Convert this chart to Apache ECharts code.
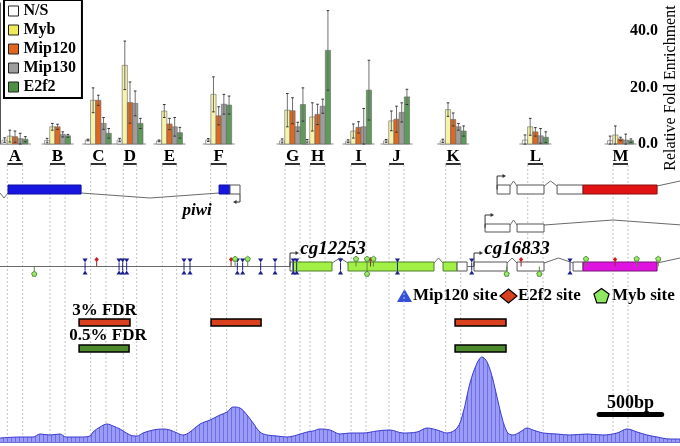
<!DOCTYPE html>
<html><head><meta charset="utf-8">
<script src="https://cdn.jsdelivr.net/npm/echarts@6/dist/echarts.min.js"></script>
<style>html,body{margin:0;padding:0;background:#fff}#c{width:680px;height:446px}</style>
</head><body><div id="c"></div>
<script>
// ---------------- DATA ----------------
const seriesNames = ['N/S', 'Myb', 'Mip120', 'Mip130', 'E2f2'];
const primerLabels = ['A','B','C','D','E','F','G','H','I','J','K','L','M'];
const primerStart = [55, 375, 680, 925, 1217, 1580, 2138, 2325, 2633, 2918, 3343, 3958, 4598];
const primerEnd   = [170, 488, 795, 1025, 1325, 1700, 2250, 2438, 2745, 3030, 3455, 4073, 4710];

const nsVals     = [1.4, 1.2, 1.4, 1.4, 1.1, 1.4, 1.1, 1.0, 1.0, 1.1, 1.1, 1.4, 1.2];
const nsErr      = [0.8, 0.8, 0.3, 0.6, 0.3, 0.5, 0.7, 0.6, 0.5, 0.5, 0.6, 1.8, 1.6];
const mybVals    = [2.8, 6.1, 15.5, 27.9, 11.7, 17.6, 12.0, 9.6, 4.6, 8.2, 12.2, 6.1, 3.2];
const mybErr     = [2.1, 1.2, 4.4, 8.6, 2.3, 6.2, 5.9, 5.0, 2.5, 3.5, 2.4, 3.0, 3.2];
const mip120Vals = [2.6, 6.1, 15.5, 14.7, 7.1, 10.0, 11.8, 10.5, 5.9, 8.8, 8.7, 4.3, 1.8];
const mip120Err  = [2.0, 0.9, 1.8, 7.3, 2.0, 3.2, 4.6, 3.6, 2.0, 4.6, 2.3, 1.5, 0.6];
const mip130Vals = [1.9, 3.4, 7.3, 14.4, 6.1, 14.1, 6.1, 13.4, 6.1, 11.2, 6.1, 2.9, 1.4];
const mip130Err  = [1.9, 0.9, 2.1, 4.4, 3.3, 3.5, 1.6, 2.5, 6.5, 3.4, 1.2, 2.6, 2.1];
const e2f2Vals   = [1.7, 2.9, 3.8, 7.3, 4.0, 13.8, 14.0, 33.2, 19.1, 16.7, 4.6, 2.4, 1.2];
const e2f2Err    = [0.9, 0.5, 1.7, 1.8, 1.9, 3.2, 5.9, 14.1, 10.6, 2.7, 1.8, 1.9, 0.6];
const yTicks = [0, 20, 40];

// gene models (bp): [start, end, coding]
const piwiExons   = [[60, 608, 1], [1643, 1725, 1], [1725, 1800, 0]];
const piwiIntrons = [[0, 60], [608, 1643]];
const piwiTss = 1800;
const iso1Exons   = [[3728, 3825, 0], [3878, 4080, 0], [4178, 4373, 0], [4373, 4928, 1]];
const iso1Introns = [[3825, 3878], [4080, 4178], [4928, 5273]];
const iso1Tss = 3728;
const iso2Exons   = [[3638, 3825, 0], [3878, 4080, 0]];
const iso2Introns = [[3825, 3878], [4080, 5115]];
const iso2Tss = 3638;
const cg12253Exons   = [[2175, 2198, 0], [2198, 2490, 1], [2610, 3255, 1], [3323, 3428, 1], [3428, 3503, 0]];
const cg12253Introns = [[2490, 2610], [3255, 3323]];
const cg12253Tss = 2175;
const cg16833Exons   = [[3555, 3803, 0], [3878, 4080, 0], [4298, 4373, 0], [4373, 4928, 1]];
const cg16833Introns = [[3803, 3878], [4080, 4298], [4928, 5273]];
const cg16833Tss = 3555;
const intergenic = [[0, 2175], [3503, 3555]];
const geneNames = ['piwi', 'cg12253', 'cg16833'];
const geneNamePos = [1478, 2498, 3878];

// binding sites (bp)
const mip120Sites = [638, 893, 920, 950, 1380, 1425, 1780, 1820, 1955, 2063, 2200, 2225, 2554, 2981, 3538, 4275];
const e2f2Sites = [725, 1733, 2779, 3908, 4613];
const mybSites = [257, 1763, 1858, 2670, 2753, 2753, 2801, 3800, 4045, 4395, 4775, 4937];
const mybStrand = [-1, 1, 1, 1, 1, -1, 1, -1, -1, 1, 1, 1];

// FDR regions (bp)
const fdr3Start = [593, 1583, 3413];
const fdr3End   = [975, 1958, 3795];
const fdr05Start = [593, 3413];
const fdr05End   = [968, 3795];
const scaleBar = [4478, 4978];

// coverage profile
const covPos = [0,150,248,300,375,450,495,600,675,698,750,803,848,900,975,1028,1073,1148,1223,1275,1328,1373,1425,1500,1575,1650,1703,1748,1800,1853,1898,1950,2003,2078,2153,2228,2303,2348,2400,2475,2550,2625,2723,2828,2925,3023,3128,3203,3278,3353,3428,3473,3525,3578,3615,3653,3698,3750,3803,3848,3900,3953,3998,4073,4178,4275,4403,4523,4628,4703,4778,4853,4928,5025,5100];
const covVal = [4,5,5,8,7,8,5,5,6,10,15,18,16,13,7,6,9,12,13,12,9,7,10,18,22,27,30,35,34,27,19,10,7,6,5,7,10,11,13,12,8,9,9,11,12,9,10,14,12,9,14,29,59,79,85,80,62,32,10,7,10,14,12,9,8,7,8,7,9,13,10,7,5,3,3];

// ---------------- STYLE ----------------
const SERIF = '"Liberation Serif", "Times New Roman", serif';
const barColors = ['#ffffff', '#f6f3aa', '#e0671f', '#9d9d9d', '#5e9a5a'];
const legendColors = ['#ffffff', '#eeea58', '#e0671f', '#9d9d9d', '#4f8f45'];
const BAR_BP = 39;
const TR = [{y0: 185, y1: 194}, {y0: 224, y1: 232}, {y0: 262, y1: 271}];

const centers = primerStart.map((s, i) => (s + primerEnd[i]) / 2);
const barVals = [nsVals, mybVals, mip120Vals, mip130Vals, e2f2Vals];
const barErrs = [nsErr, mybErr, mip120Err, mip130Err, e2f2Err];

function txt(x, y, text, font, align, valign, fill) {
  return {type: 'text', x: x, y: y, style: {text: text, font: font, fill: fill || '#000',
    align: align, verticalAlign: valign, textAlign: align, textVerticalAlign: valign}};
}

function barRender(k) {
  return function (params, api) {
    const x = api.value(0), v = api.value(1), e = api.value(2);
    const bw = api.size([BAR_BP, 0])[0];
    const b = api.coord([x, 0]), t = api.coord([x, v]);
    const left = b[0] + (k - 2.5) * bw;
    const cx = left + bw / 2;
    const hi = api.coord([x, v + e])[1], lo = api.coord([x, Math.max(0, v - e)])[1];
    return {type: 'group', children: [
      {type: 'rect', shape: {x: left, y: t[1], width: bw, height: b[1] - t[1]}, style: {fill: barColors[k], stroke: '#666', lineWidth: 0.6}},
      {type: 'line', shape: {x1: cx, y1: hi, x2: cx, y2: lo}, style: {stroke: '#707070', lineWidth: 1}},
      {type: 'line', shape: {x1: cx - 1.3, y1: hi, x2: cx + 1.3, y2: hi}, style: {stroke: '#333', lineWidth: 1}},
      {type: 'line', shape: {x1: cx - 1.3, y1: lo, x2: cx + 1.3, y2: lo}, style: {stroke: '#333', lineWidth: 1}}
    ]};
  };
}

// build gene elements
const geneEls = [];
function addGene(trk, exons, introns, tss, strand, color, border) {
  introns.forEach(r => geneEls.push({k: 'intron', s: r[0], e: r[1], trk: trk, strand: strand}));
  exons.forEach(r => geneEls.push({k: 'exon', s: r[0], e: r[1], trk: trk, fill: r[2] ? color : '#ffffff', stroke: r[2] ? border : '#555'}));
  geneEls.push({k: 'tss', s: tss, e: tss, trk: trk, strand: strand});
}
intergenic.forEach(r => geneEls.push({k: 'line', s: r[0], e: r[1], trk: 2}));
addGene(0, piwiExons, piwiIntrons, piwiTss, -1, '#1616e0', '#1010a0');
addGene(0, iso1Exons, iso1Introns, iso1Tss, 1, '#e01212', '#8a1010');
addGene(1, iso2Exons, iso2Introns, iso2Tss, 1, '#e01212', '#8a1010');
addGene(2, cg12253Exons, cg12253Introns, cg12253Tss, 1, '#a2f046', '#4d7f2a');
addGene(2, cg16833Exons, cg16833Introns, cg16833Tss, 1, '#e014e0', '#7a127a');

function geneRender(p, api) {
  const g = geneEls[p.dataIndex];
  const tr = TR[g.trk];
  const mid = (tr.y0 + tr.y1) / 2;
  const ln = {stroke: '#6a6a6a', lineWidth: 1, fill: null};
  if (g.k === 'line') {
    const a = api.coord([g.s, mid]), b = api.coord([g.e, mid]);
    return {type: 'line', shape: {x1: a[0], y1: a[1], x2: b[0], y2: b[1]}, style: ln};
  }
  if (g.k === 'exon') {
    const a = api.coord([g.s, tr.y0]), b = api.coord([g.e, tr.y1]);
    return {type: 'rect', shape: {x: a[0], y: a[1], width: b[0] - a[0], height: b[1] - a[1]}, style: {fill: g.fill, stroke: g.stroke, lineWidth: 1}};
  }
  if (g.k === 'intron') {
    const ey = g.strand < 0 ? tr.y1 - 1 : tr.y0 + 1;
    const ay = g.strand < 0 ? tr.y1 + 4 : tr.y0 - 4;
    const a = api.coord([g.s, ey]), m = api.coord([(g.s + g.e) / 2, ay]), b = api.coord([g.e, ey]);
    return {type: 'polyline', shape: {points: [a, m, b]}, style: ln};
  }
  // tss arrow
  const x = api.coord([g.s, mid])[0];
  const st = {stroke: '#333', lineWidth: 1, fill: null};
  if (g.strand > 0) {
    const y0 = api.coord([g.s, mid])[1], y1 = api.coord([g.s, tr.y0 - 9])[1];
    return {type: 'group', children: [
      {type: 'polyline', shape: {points: [[x, y0], [x, y1], [x + 7, y1]]}, style: st},
      {type: 'polygon', shape: {points: [[x + 9, y1], [x + 5.5, y1 - 2], [x + 5.5, y1 + 2]]}, style: {fill: '#333'}}
    ]};
  }
  const y0 = api.coord([g.s, tr.y1])[1], y1 = api.coord([g.s, tr.y1 + 8])[1];
  return {type: 'group', children: [
    {type: 'polyline', shape: {points: [[x, y0], [x, y1], [x - 5, y1]]}, style: st},
    {type: 'polygon', shape: {points: [[x - 7, y1], [x - 3.5, y1 - 2], [x - 3.5, y1 + 2]]}, style: {fill: '#333'}}
  ]};
}

function pentagon(cx, cy, r) {
  const pts = [];
  for (let i = 0; i < 5; i++) {
    const a = -Math.PI / 2 + i * 2 * Math.PI / 5;
    pts.push([cx + r * Math.cos(a), cy + r * Math.sin(a)]);
  }
  return pts;
}

const siteY = (TR[2].y0 + TR[2].y1) / 2;

function trackSeries(data, render, z) {
  return {type: 'custom', xAxisIndex: 1, yAxisIndex: 1, silent: true, clip: true, z: z,
    data: data, renderItem: render};
}

// coverage fill pattern
const pat = document.createElement('canvas');
pat.width = 4; pat.height = 4;
(function () {
  const c = pat.getContext('2d');
  c.fillStyle = '#9a9cf5'; c.fillRect(0, 0, 4, 4);
  c.fillStyle = '#6d6fe6'; c.fillRect(3, 0, 1, 4);
})();

const chart = echarts.init(document.getElementById('c'), null, {renderer: 'canvas'});

const series = [];
// group baselines
series.push({type: 'custom', xAxisIndex: 0, yAxisIndex: 0, silent: true, z: 1,
  data: centers.map(c => [c, 0]),
  renderItem: (p, api) => {
    const c = api.coord([api.value(0), 0]);
    return {type: 'line', shape: {x1: c[0] - 16, y1: c[1], x2: c[0] + 16, y2: c[1]}, style: {stroke: '#8a8a8a', lineWidth: 1}};
  }});
for (let k = 0; k < 5; k++) {
  series.push({type: 'custom', name: seriesNames[k], xAxisIndex: 0, yAxisIndex: 0, z: 3,
    itemStyle: {color: legendColors[k]},
    data: centers.map((c, i) => [c, barVals[k][i], barErrs[k][i]]),
    renderItem: barRender(k)});
}
// primers: dashed lines, letter, underline
series.push(trackSeries(primerStart.map((s, i) => [s, primerEnd[i]]), (p, api) => {
  const i = p.dataIndex;
  const a = api.coord([primerStart[i], 164]), b = api.coord([primerEnd[i], 164]);
  const bot = api.coord([primerStart[i], 441])[1];
  const dash = {stroke: '#c2c2c2', lineWidth: 1, lineDash: [2, 2]};
  return {type: 'group', children: [
    {type: 'line', shape: {x1: a[0], y1: a[1] + 1, x2: a[0], y2: bot}, style: dash},
    {type: 'line', shape: {x1: b[0], y1: b[1] + 1, x2: b[0], y2: bot}, style: dash},
    {type: 'line', shape: {x1: a[0], y1: a[1], x2: b[0], y2: b[1]}, style: {stroke: '#000', lineWidth: 1.6}},
    txt((a[0] + b[0]) / 2, a[1] - 7, primerLabels[i], 'bold 17px ' + SERIF, 'center', 'middle')
  ]};
}, 0));
// genes
series.push(trackSeries(geneEls.map(g => [g.s, g.e]), geneRender, 2));
// gene names
series.push(trackSeries(geneNamePos.map(x => [x, 0]), (p, api) => {
  const i = p.dataIndex;
  const y = i === 0 ? 211 : 249;
  const c = api.coord([geneNamePos[i], y]);
  return txt(c[0], c[1], geneNames[i], 'italic bold ' + (i === 0 ? 17 : 19) + 'px ' + SERIF, 'center', 'middle');
}, 5));
// Mip120 sites
series.push(trackSeries(mip120Sites.map(x => [x, 0]), (p, api) => {
  const c = api.coord([mip120Sites[p.dataIndex], siteY]);
  const x = c[0], y = c[1];
  const col = '#1c1f8c';
  return {type: 'group', children: [
    {type: 'line', shape: {x1: x, y1: y - 4, x2: x, y2: y + 4}, style: {stroke: col, lineWidth: 1}},
    {type: 'polygon', shape: {points: [[x - 2.6, y - 8], [x + 2.6, y - 8], [x, y - 4]]}, style: {fill: col}},
    {type: 'polygon', shape: {points: [[x - 2.6, y + 8], [x + 2.6, y + 8], [x, y + 4]]}, style: {fill: col}}
  ]};
}, 6));
// E2f2 sites
series.push(trackSeries(e2f2Sites.map(x => [x, 0]), (p, api) => {
  const c = api.coord([e2f2Sites[p.dataIndex], siteY]);
  const x = c[0], y = c[1];
  return {type: 'group', children: [
    {type: 'line', shape: {x1: x, y1: y - 5, x2: x, y2: y}, style: {stroke: '#8a2a2a', lineWidth: 1}},
    {type: 'polygon', shape: {points: [[x, y - 9.5], [x + 2.2, y - 7], [x, y - 4.5], [x - 2.2, y - 7]]}, style: {fill: '#c81e1e'}}
  ]};
}, 7));
// Myb sites
series.push(trackSeries(mybSites.map(x => [x, 0]), (p, api) => {
  const i = p.dataIndex;
  const c = api.coord([mybSites[i], siteY]);
  const x = c[0], y = c[1], s = mybStrand[i];
  const py = y - s * 7.5;
  return {type: 'group', children: [
    {type: 'line', shape: {x1: x, y1: y, x2: x, y2: py + s * 2.5}, style: {stroke: '#5a8a3a', lineWidth: 1}},
    {type: 'polygon', shape: {points: pentagon(x, py, 2.8)}, style: {fill: '#9ae86a', stroke: '#3b7a22', lineWidth: 0.8}}
  ]};
}, 7));
// FDR bars
series.push(trackSeries(fdr3Start.map((s, i) => [s, fdr3End[i]]), (p, api) => {
  const i = p.dataIndex;
  const a = api.coord([fdr3Start[i], 319]), b = api.coord([fdr3End[i], 326]);
  const ch = [{type: 'rect', shape: {x: a[0], y: a[1], width: b[0] - a[0], height: b[1] - a[1]}, style: {fill: '#d8401e', stroke: '#000', lineWidth: 1.5}}];
  if (i === 0) ch.push(txt((a[0] + b[0]) / 2, a[1] - 8, '3% FDR', 'bold 17px ' + SERIF, 'center', 'middle'));
  return {type: 'group', children: ch};
}, 4));
series.push(trackSeries(fdr05Start.map((s, i) => [s, fdr05End[i]]), (p, api) => {
  const i = p.dataIndex;
  const a = api.coord([fdr05Start[i], 345]), b = api.coord([fdr05End[i], 352]);
  const ch = [{type: 'rect', shape: {x: a[0], y: a[1], width: b[0] - a[0], height: b[1] - a[1]}, style: {fill: '#4d8a2c', stroke: '#000', lineWidth: 1.5}}];
  if (i === 0) ch.push(txt((a[0] + b[0]) / 2 + 4, a[1] - 9, '0.5% FDR', 'bold 17px ' + SERIF, 'center', 'middle'));
  return {type: 'group', children: ch};
}, 4));
// scale bar
series.push(trackSeries([[scaleBar[0], scaleBar[1]]], (p, api) => {
  const a = api.coord([scaleBar[0], 414.5]), b = api.coord([scaleBar[1], 414.5]);
  return {type: 'group', children: [
    {type: 'line', shape: {x1: a[0] + 2, y1: a[1], x2: b[0] - 2, y2: b[1]}, style: {stroke: '#000', lineWidth: 5, lineCap: 'round'}},
    txt((a[0] + b[0]) / 2, a[1] - 11, (scaleBar[1] - scaleBar[0]) + 'bp', 'bold 18px ' + SERIF, 'center', 'middle')
  ]};
}, 8));
// coverage
series.push({type: 'line', xAxisIndex: 2, yAxisIndex: 2, silent: true, z: 1,
  data: covPos.map((x, i) => [x, covVal[i]]), smooth: 0.35, symbol: 'none',
  lineStyle: {color: '#3a3ad0', width: 1}, areaStyle: {color: {image: pat, repeat: 'repeat'}, opacity: 1}});

chart.setOption({
  animation: false,
  backgroundColor: '#fff',
  grid: [
    {left: 0, width: 662, top: 3, height: 141, outerBoundsMode: 'none'},
    {left: 0, right: 0, top: 0, bottom: 0, outerBoundsMode: 'none'},
    {left: 0, right: 0, top: 342, height: 100, outerBoundsMode: 'none'}
  ],
  xAxis: [
    {gridIndex: 0, type: 'value', min: 0, max: 4965, show: false},
    {gridIndex: 1, type: 'value', min: 0, max: 5100, show: false},
    {gridIndex: 2, type: 'value', min: 0, max: 5100, axisLine: {show: true, onZero: false, lineStyle: {color: '#3a3ad0', width: 1.5}},
      axisTick: {show: false}, axisLabel: {show: false}, splitLine: {show: false}}
  ],
  yAxis: [
    {gridIndex: 0, type: 'value', position: 'right', min: 0, max: 50, interval: 20,
      axisLine: {show: true, lineStyle: {color: '#555', width: 1}},
      axisTick: {show: true, inside: true, length: 3, lineStyle: {color: '#555'}},
      axisLabel: {inside: true, margin: 4, showMaxLabel: false, color: '#000', fontFamily: SERIF, fontWeight: 'bold', fontSize: 16,
        formatter: v => (yTicks.indexOf(v) >= 0 ? v.toFixed(1) : '')},
      splitLine: {show: false}},
    {gridIndex: 1, type: 'value', min: 0, max: 446, inverse: true, show: false},
    {gridIndex: 2, type: 'value', min: 0, max: 100, show: false}
  ],
  legend: {
    orient: 'vertical', left: 4, top: 0, padding: [3, 6, 3, 4], itemGap: 3, itemWidth: 10, itemHeight: 10,
    icon: 'rect', borderColor: '#000', borderWidth: 2, backgroundColor: '#fff', selectedMode: false,
    textStyle: {fontFamily: SERIF, fontWeight: 'bold', fontSize: 16, color: '#000', lineHeight: 16},
    data: seriesNames.map((n, i) => ({name: n, itemStyle: {color: legendColors[i], borderColor: '#222', borderWidth: 1}}))
  },
  graphic: [
    {type: 'text', x: 671, y: 88, rotation: Math.PI / 2,
      style: {text: 'Relative Fold Enrichment', font: '16px ' + SERIF, fill: '#000', align: 'center', verticalAlign: 'middle', textAlign: 'center', textVerticalAlign: 'middle'}},
    {type: 'polygon', shape: {points: [[397, 302], [412, 302], [404.5, 289]]}, style: {fill: '#3550d8'}},
    {type: 'text', x: 413, y: 296, style: {text: 'Mip120 site', font: 'bold 17px ' + SERIF, fill: '#000', align: 'left', verticalAlign: 'middle', textAlign: 'left', textVerticalAlign: 'middle'}},
    {type: 'polygon', shape: {points: [[500, 296], [508.5, 289], [517, 296], [508.5, 303]]}, style: {fill: '#d8401e', stroke: '#000', lineWidth: 1.2}},
    {type: 'text', x: 518, y: 296, style: {text: 'E2f2 site', font: 'bold 17px ' + SERIF, fill: '#000', align: 'left', verticalAlign: 'middle', textAlign: 'left', textVerticalAlign: 'middle'}},
    {type: 'polygon', shape: {points: pentagon(601.5, 296.5, 8)}, style: {fill: '#8fe860', stroke: '#000', lineWidth: 1.2}},
    {type: 'text', x: 612, y: 296, style: {text: 'Myb site', font: 'bold 17px ' + SERIF, fill: '#000', align: 'left', verticalAlign: 'middle', textAlign: 'left', textVerticalAlign: 'middle'}}
  ],
  series: series
});
</script>
</body></html>
